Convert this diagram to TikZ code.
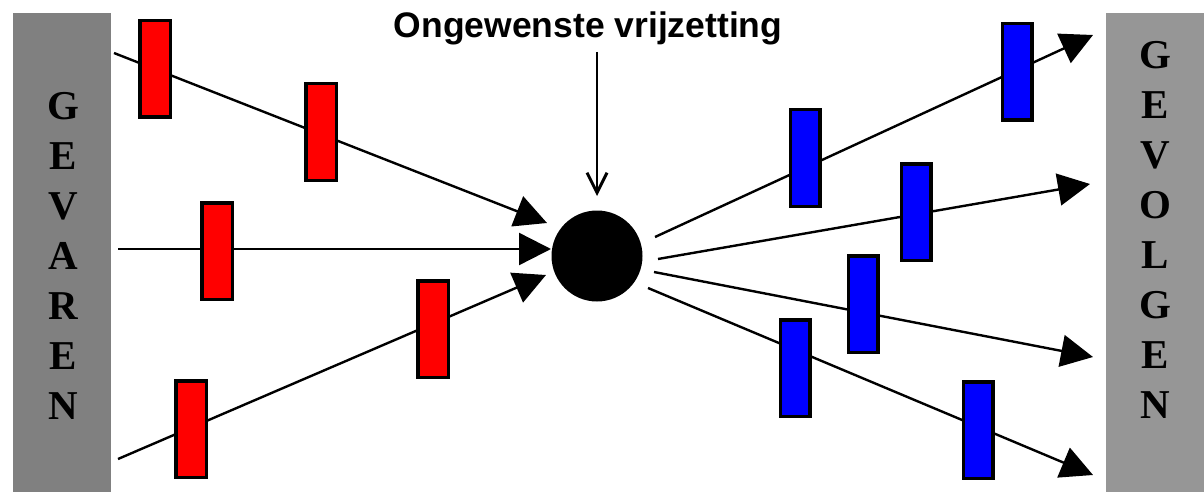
\documentclass[tikz,border=0pt]{standalone}
\usepackage{fontspec}
\setmainfont{Liberation Serif}
\newfontfamily\titlefont{Liberation Sans}
\usetikzlibrary{arrows.meta}
\definecolor{barL}{HTML}{808080}
\definecolor{barR}{HTML}{969696}
\definecolor{hred}{HTML}{FF0000}
\definecolor{hblue}{HTML}{0000FF}
\tikzset{
  redbox/.style={draw=black, line width=3.5pt, fill=hred, minimum width=30.5pt, minimum height=96.5pt, inner sep=0pt},
  bluebox/.style={draw=black, line width=3.5pt, fill=hblue, minimum width=29.5pt, minimum height=96.5pt, inner sep=0pt},
  flow/.style={line width=2.4pt, -{Triangle[length=32pt,width=32pt]}},
  barlabel/.style={font=\bfseries\fontsize{41}{50}\selectfont, align=center, inner sep=0pt},
}
\begin{document}
\begin{tikzpicture}[x=1pt,y=-1pt]
\useasboundingbox (0,0) rectangle (1204,492);
\fill[white] (0,0) rectangle (1204,492);
% side bars
\node[fill=barL, minimum width=98pt, minimum height=479pt, inner sep=0pt, anchor=north west] (gevaren) at (13,13) {};
\node[fill=barR, minimum width=98pt, minimum height=479pt, inner sep=0pt, anchor=north west] (gevolgen) at (1106,13) {};
\node[barlabel] (lt) at (63,256) {G\\E\\V\\A\\R\\E\\N};
\node[barlabel] (rt) at (1155,230) {G\\E\\V\\O\\L\\G\\E\\N};
% title and event
\node[font=\titlefont\bfseries\fontsize{35.5}{40}\selectfont, inner sep=0pt] (title) at (588,28) {Ongewenste vrijzetting};
\node[circle, fill=black, minimum size=91pt, inner sep=0pt] (ev) at (597,256) {};
\coordinate (dtop) at (597,52);
\coordinate (dtip) at (597,196);
\draw[line width=2.4pt, -{Straight Barb[length=20pt,width=20pt,line width=3pt]}] (dtop) -- (dtip);
% left connectors
\coordinate (ls1) at (114,53);  \coordinate (lt1) at (547,223);
\coordinate (ls2) at (118,249); \coordinate (lt2) at (551,249);
\coordinate (ls3) at (118,459); \coordinate (lt3) at (546,275);
\draw[flow] (ls1) -- (lt1);
\draw[flow] (ls2) -- (lt2);
\draw[flow] (ls3) -- (lt3);
% right connectors
\coordinate (rs1) at (655,237); \coordinate (rt1) at (1093,35);
\coordinate (rs2) at (658,259); \coordinate (rt2) at (1090,184);
\coordinate (rs3) at (654,272); \coordinate (rt3) at (1093,357);
\coordinate (rs4) at (648,288); \coordinate (rt4) at (1093,475);
\draw[flow] (rs1) -- (rt1);
\draw[flow] (rs2) -- (rt2);
\draw[flow] (rs3) -- (rt3);
\draw[flow] (rs4) -- (rt4);
% barriers
\node[redbox] (r1) at (155,69) {};
\node[redbox] (r2) at (321,132) {};
\node[redbox] (r3) at (217,251) {};
\node[redbox] (r4) at (433,329) {};
\node[redbox] (r5) at (191,429) {};
\node[bluebox] (b1) at (805,158) {};
\node[bluebox] (b2) at (1017,72) {};
\node[bluebox] (b3) at (916,212) {};
\node[bluebox] (b4) at (863,304) {};
\node[bluebox] (b5) at (795,368) {};
\node[bluebox] (b6) at (978,430) {};
\end{tikzpicture}
\end{document}
